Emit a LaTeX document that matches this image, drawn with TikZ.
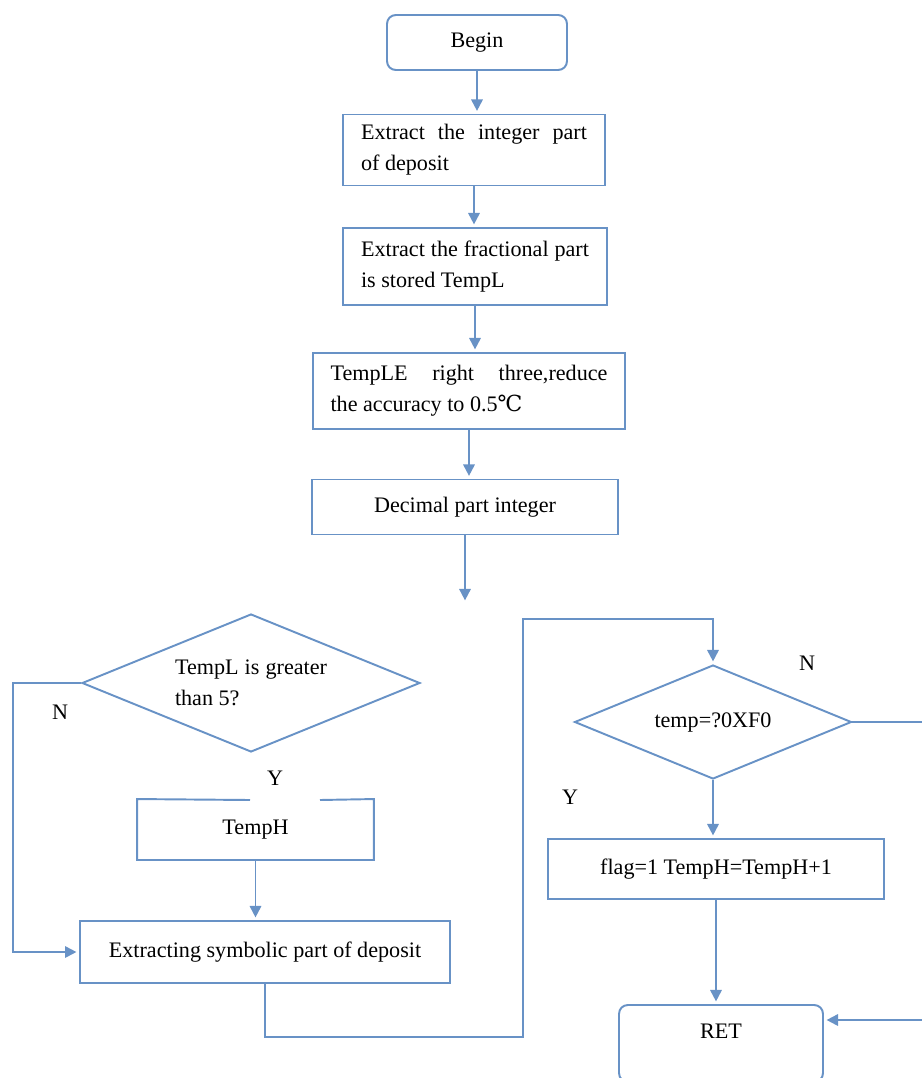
\documentclass[tikz,border=0pt]{standalone}
\usepackage{fontspec}
\setmainfont{Liberation Serif}
\newfontfamily\degfont{DejaVu Serif}
\usetikzlibrary{shapes,arrows.meta,positioning}
\definecolor{flowblue}{RGB}{104,146,198}

\begin{document}
\begin{tikzpicture}[x=0.02cm, y=-0.02cm,
					every node/.style={font=\fontsize{12.6pt}{17.5pt}\selectfont, text=black},
					proc/.style={rectangle, draw=flowblue, line width=1.1pt, inner sep=0pt, align=center},
					term/.style={proc, rounded corners=5pt},
					cond/.style={diamond, draw=flowblue, line width=1.1pt, inner sep=0pt, aspect=2.45},
					arr/.style={draw=flowblue, line width=1.1pt, shorten >=1.5pt, -{Triangle[width=6.5pt,length=6.5pt]}},
					edge/.style={draw=flowblue, line width=1.1pt}]
					\useasboundingbox (0,0) rectangle (922,1078);
					\node[term, minimum width=3.6cm, minimum height=1.1cm] (begin) at (477,42.5) {Begin};
					\node[proc, minimum width=5.24cm, minimum height=1.42cm, text width=4.52cm, align=justify] (intpart) at (474,150) {Extract the integer part\linebreak of deposit};
					\node[proc, minimum width=5.28cm, minimum height=1.54cm, text width=4.56cm, align=justify] (fracpart) at (475,266.5) {Extract the fractional part\linebreak is stored TempL};
					\node[proc, minimum width=6.24cm, minimum height=1.52cm, text width=5.54cm, align=justify] (shift) at (469,391) {TempLE right three,reduce\linebreak the accuracy to 0.5{\degfont ℃}};
					\node[proc, minimum width=6.12cm, minimum height=1.1cm] (decint) at (465,507) {Decimal part integer};
					\coordinate (hang) at (465,603);
					\node[cond, minimum width=6.76cm, minimum height=2.76cm, text width=3.04cm, align=justify] (gt5) at (251,683) {TempL is greater\linebreak than 5?};
					\node (n1) at (60,712) {N};
					\node (y1) at (275,778) {Y};
					\node[proc, draw=none, minimum width=4.7cm, minimum height=1.18cm] (tempH) at (255.5,829.5) {TempH};
					\node[proc, minimum width=7.4cm, minimum height=1.24cm] (sym) at (265,952) {Extracting symbolic part of deposit};
					\node[cond, minimum width=5.54cm, minimum height=2.28cm] (cmpF0) at (713,722) {temp=?0XF0};
					\node (n2) at (807,663) {N};
					\node (y2) at (570,797) {Y};
					\node[proc, minimum width=6.72cm, minimum height=1.2cm] (flag) at (716,869) {flag=1 TempH=TempH+1};
					\node[term, minimum width=4.08cm, minimum height=1.54cm, text depth=0.5cm] (ret) at (721,1043.5) {RET};
					\coordinate (gapL) at (250,800);
					\coordinate (gapR) at (320,800);
					\coordinate (nleft) at (13,683);
					\coordinate (loopb) at (523,1037);
					\coordinate (loopt) at (523,619);
					\coordinate (rside) at (923,1020);
					\draw[edge] (gapL) -- (tempH.north west) -- (tempH.south west) -- (tempH.south east) -- (tempH.north east) -- (gapR);
					\draw[arr] (begin.south) -- (begin.south |- intpart.north);
					\draw[arr] (intpart.south) -- (intpart.south |- fracpart.north);
					\draw[arr] (fracpart.south) -- (fracpart.south |- shift.north);
					\draw[arr] (shift.south) -- (shift.south |- decint.north);
					\draw[arr] (decint.south) -- (hang);
					\draw[arr] (gt5.west) -- (nleft) |- (sym.west);
					\draw[arr] (tempH.south) -- (tempH.south |- sym.north);
					\draw[arr] (sym.south) |- (loopb) -- (loopt) -| (cmpF0.north);
					\draw[arr] (cmpF0.south) -- (cmpF0.south |- flag.north);
					\draw[arr] (flag.south) -- (flag.south |- ret.north);
					\draw[arr] (cmpF0.east) -| (rside) -- (rside -| ret.east);
				\end{tikzpicture}
\end{document}
